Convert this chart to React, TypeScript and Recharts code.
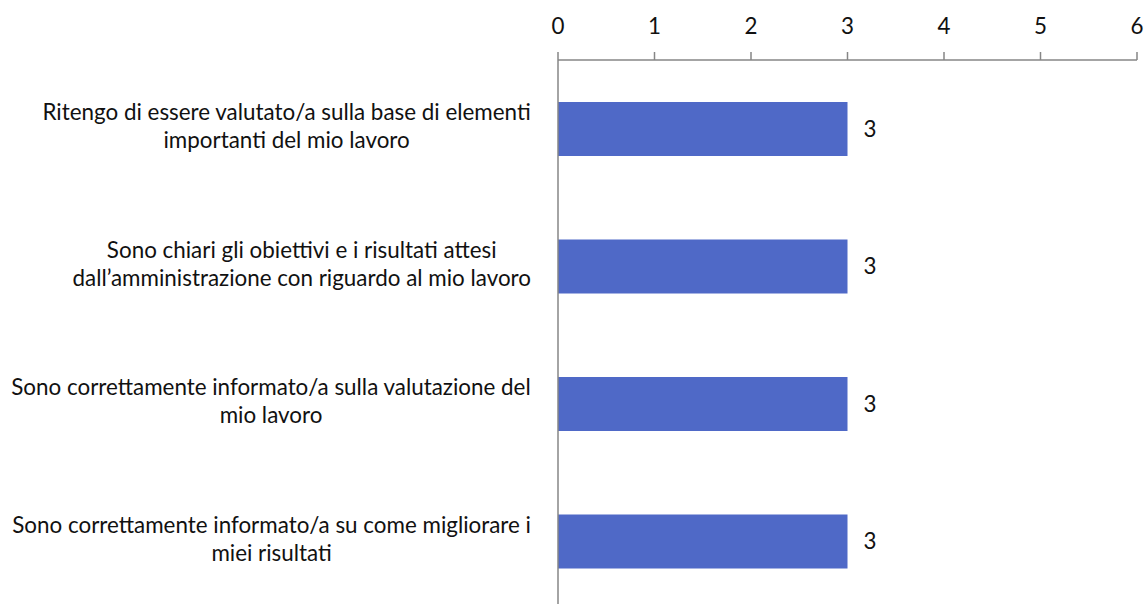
import React from 'react';
import { BarChart, Bar, XAxis, YAxis, LabelList } from 'recharts';

const categories: string[] = [
  'Ritengo di essere valutato/a sulla base di elementi\nimportanti del mio lavoro',
  'Sono chiari gli obiettivi e i risultati attesi\ndall\u2019amministrazione con riguardo al mio lavoro',
  'Sono correttamente informato/a sulla valutazione del\nmio lavoro',
  'Sono correttamente informato/a su come migliorare i\nmiei risultati',
];
const values: number[] = [3, 3, 3, 3];
const xTicks: number[] = [0, 1, 2, 3, 4, 5, 6];

const data = categories.map((c, i) => ({ name: c, value: values[i] }));

const FONT = 'Lato, "Noto Sans", sans-serif';
const FS = 22.4;
const AXIS = '#868686';
const TEXT = '#111111';

let ctx: CanvasRenderingContext2D | null = null;
const measure = (s: string): number => {
  if (typeof document === 'undefined') return s.length * FS * 0.45;
  if (!ctx) ctx = document.createElement('canvas').getContext('2d');
  if (!ctx) return s.length * FS * 0.45;
  ctx.font = `${FS}px Lato`;
  return ctx.measureText(s).width;
};

const YTick = (props: any) => {
  const { x, y, payload } = props;
  const lines: string[] = String(payload.value).split('\n');
  const lh = 28;
  const start = -((lines.length - 1) * lh) / 2 - 3;
  const maxW = Math.max(...lines.map(measure));
  const right = x - 19;
  const cx = right - maxW / 2;
  return (
    <g>
      {lines.map((l, i) => (
        <text
          key={i}
          x={cx}
          y={y + start + i * lh}
          textAnchor="middle"
          dominantBaseline="central"
          fontFamily={FONT}
          fontSize={FS}
          fill={TEXT}
        >
          {l}
        </text>
      ))}
    </g>
  );
};

export default function App() {
  return (
    <div style={{ position: 'absolute', left: 0, top: 0, width: 1147, height: 604, overflow: 'hidden', background: '#fff' }}>
      <BarChart
        width={1147}
        height={620}
        data={data}
        layout="vertical"
        margin={{ top: 30, right: 10, bottom: 10, left: 0 }}
        barSize={54}
      >
        <XAxis
          type="number"
          orientation="top"
          domain={[0, 6]}
          ticks={xTicks}
          height={30}
          axisLine={{ stroke: AXIS, strokeWidth: 1.5 }}
          tickLine={{ stroke: AXIS, strokeWidth: 1.5 }}
          tickSize={8}
          tickMargin={18}
          tick={{ fill: TEXT, fontFamily: FONT, fontSize: FS }}
          interval={0}
        />
        <YAxis
          type="category"
          dataKey="name"
          width={558}
          axisLine={{ stroke: AXIS, strokeWidth: 1.5 }}
          tickLine={false}
          tick={<YTick />}
          interval={0}
        />
        <Bar dataKey="value" fill="#4f69c7" isAnimationActive={false}>
          <LabelList
            dataKey="value"
            position="right"
            offset={16}
            fill={TEXT}
            fontFamily={FONT}
            fontSize={FS}
          />
        </Bar>
      </BarChart>
    </div>
  );
}
